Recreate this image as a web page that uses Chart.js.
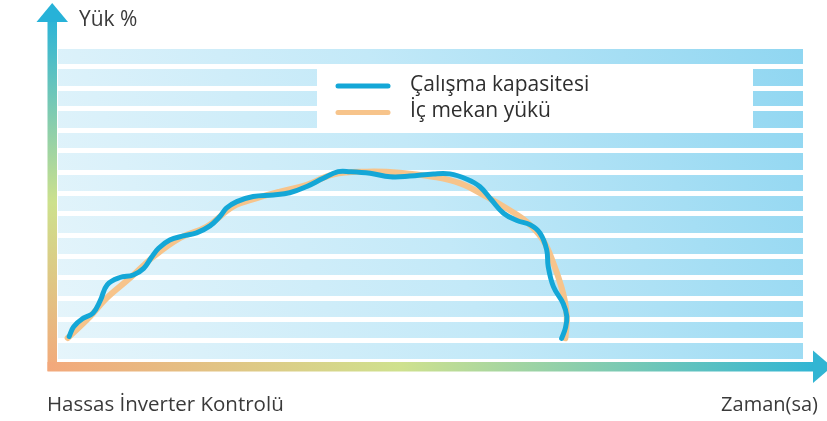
<!DOCTYPE html>
<html lang="tr">
<head>
<meta charset="utf-8">
<title>Hassas İnverter Kontrolü</title>
<script src="https://cdn.jsdelivr.net/npm/chart.js@4/dist/chart.umd.min.js"></script>
<style>
  html, body { margin: 0; padding: 0; background: #ffffff; }
  #wrap { width: 827px; height: 421px; }
</style>
</head>
<body>
<div id="wrap"><canvas id="c" width="827" height="421"></canvas></div>
<script>
// Labels
const yAxisLabel = 'Yük %';
const xAxisLabel = 'Zaman(sa)';
const captionText = 'Hassas İnverter Kontrolü';
const seriesNames = ['Çalışma kapasitesi', 'İç mekan yükü'];

// Operating capacity (time %, load %)
const capacityX = [1.5, 2.1, 3.4, 4.7, 5.7, 6.6, 8.3, 10.1, 11.5, 12.6, 13.5, 15.0, 16.8, 18.6, 20.4, 21.7, 22.6, 24.0, 26.2, 28.9, 31.1, 33.4, 35.6, 37.6, 39.2, 41.9, 44.6, 47.2, 50.4, 52.6, 54.9, 56.6, 58.2, 59.8, 61.6, 63.4, 64.7, 65.6, 65.8, 66.5, 67.8, 68.3, 68.1, 67.6];
const capacityY = [7.8, 10.9, 13.6, 15.2, 19.3, 24.2, 26.5, 27.3, 29.4, 33.1, 35.8, 38.4, 39.7, 40.7, 42.9, 45.8, 48.5, 50.6, 52.2, 52.7, 53.4, 55.4, 58.0, 60.1, 60.1, 59.6, 58.5, 58.7, 59.4, 59.4, 57.7, 55.4, 51.1, 46.9, 44.6, 43.2, 40.6, 35.3, 30.0, 23.6, 18.3, 14.1, 10.4, 7.2];

// Indoor load (time %, load %)
const loadX = [1.3, 4.3, 6.5, 9.7, 12.8, 16.4, 20.0, 23.5, 26.7, 29.8, 33.4, 36.9, 41.4, 45.9, 50.3, 54.0, 57.5, 60.2, 62.9, 65.1, 66.5, 67.8, 68.3, 68.1];
const loadY = [7.3, 14.1, 19.9, 26.4, 33.1, 39.1, 42.7, 49.0, 51.7, 53.8, 55.9, 59.2, 60.1, 59.8, 58.5, 56.4, 52.2, 48.5, 44.2, 38.4, 31.0, 21.5, 14.1, 7.2];

const seriesColors = ['#14a7d7', '#f7c48b'];

const toPoints = (xs, ys) => xs.map((x, i) => ({ x: x, y: ys[i] }));

// Striped sky-blue plot background
const backdrop = {
  id: 'backdrop',
  beforeDraw(chart) {
    const { ctx, chartArea: a } = chart;
    const g = ctx.createLinearGradient(a.left, a.bottom, a.right, a.top);
    g.addColorStop(0, '#e6f5fb');
    g.addColorStop(0.5, '#c3e9f8');
    g.addColorStop(1, '#8fd6f1');
    ctx.save();
    ctx.fillStyle = g;
    ctx.fillRect(a.left, a.top, a.right - a.left, a.bottom - a.top);
    ctx.restore();
  }
};

// Legend panel drawn inside the plot
const legendPanel = {
  id: 'legendPanel',
  beforeDatasetsDraw(chart) {
    const ctx = chart.ctx;
    ctx.save();
    ctx.fillStyle = '#ffffff';
    ctx.fillRect(317, 64, 436, 69);
    const rows = [86, 112.5];
    chart.data.datasets.forEach((ds, i) => {
      const y = rows[i];
      ctx.strokeStyle = ds.borderColor;
      ctx.lineWidth = 5;
      ctx.lineCap = 'round';
      ctx.beginPath();
      ctx.moveTo(338, y);
      ctx.lineTo(388, y);
      ctx.stroke();
      ctx.fillStyle = '#2e2e2e';
      ctx.font = '21px "Open Sans"';
      ctx.textBaseline = 'middle';
      ctx.fillText(ds.label, 410, y - 1);
    });
    ctx.restore();
  }
};

// Gradient axes with arrow heads and axis captions
const arrowAxes = {
  id: 'arrowAxes',
  afterDatasetsDraw(chart) {
    const ctx = chart.ctx;
    ctx.save();
    // vertical axis
    const gv = ctx.createLinearGradient(0, 20, 0, 371);
    gv.addColorStop(0, '#2cb4d7');
    gv.addColorStop(0.52, '#cde18d');
    gv.addColorStop(1, '#f3a97b');
    ctx.fillStyle = gv;
    ctx.fillRect(47.5, 20, 9.5, 351);
    ctx.fillStyle = '#27b2d8';
    ctx.beginPath();
    ctx.moveTo(52.2, 3);
    ctx.lineTo(68, 22);
    ctx.lineTo(36.5, 22);
    ctx.closePath();
    ctx.fill();
    // horizontal axis
    const gh = ctx.createLinearGradient(47, 0, 815, 0);
    gh.addColorStop(0, '#f3a87b');
    gh.addColorStop(0.46, '#cfe18e');
    gh.addColorStop(1, '#30b5d4');
    ctx.fillStyle = gh;
    ctx.fillRect(47.5, 362, 768, 9.5);
    ctx.fillStyle = '#32b5d3';
    ctx.beginPath();
    ctx.moveTo(813, 350.5);
    ctx.lineTo(832, 366.7);
    ctx.lineTo(813, 383);
    ctx.closePath();
    ctx.fill();
    // captions
    ctx.fillStyle = '#3a3a3a';
    ctx.font = '21px "Open Sans"';
    ctx.textBaseline = 'alphabetic';
    ctx.textAlign = 'left';
    ctx.fillText(yAxisLabel, 79, 25.5);
    ctx.font = '20.5px "Open Sans"';
    ctx.fillText(captionText, 47, 411);
    ctx.font = '20px "Open Sans"';
    ctx.textAlign = 'right';
    ctx.fillText(xAxisLabel, 818, 411);
    ctx.restore();
  }
};

new Chart(document.getElementById('c'), {
  type: 'line',
  data: {
    datasets: [
      {
        label: seriesNames[0],
        data: toPoints(capacityX, capacityY),
        borderColor: seriesColors[0],
        borderWidth: 5,
        borderCapStyle: 'round',
        borderJoinStyle: 'round',
        tension: 0.4,
        pointRadius: 0,
        fill: false,
        order: 0
      },
      {
        label: seriesNames[1],
        data: toPoints(loadX, loadY),
        borderColor: seriesColors[1],
        borderWidth: 6,
        borderCapStyle: 'round',
        borderJoinStyle: 'round',
        tension: 0.4,
        pointRadius: 0,
        fill: false,
        order: 1
      }
    ]
  },
  options: {
    responsive: false,
    animation: false,
    devicePixelRatio: 1,
    layout: { padding: { left: 58, right: 24, top: 46, bottom: 60 } },
    plugins: { legend: { display: false }, tooltip: { enabled: false } },
    scales: {
      x: {
        type: 'linear', min: 0, max: 100,
        grid: { display: false, drawTicks: false },
        border: { display: false },
        ticks: { display: false },
        afterFit(s) { s.height = 0; s.paddingLeft = 0; s.paddingRight = 0; }
      },
      y: {
        min: 0, max: 100,
        grid: { color: '#ffffff', lineWidth: 5, drawTicks: false },
        border: { display: false },
        ticks: { display: false, count: 16 },
        afterFit(s) { s.width = 0; s.paddingTop = 0; s.paddingBottom = 0; }
      }
    }
  },
  plugins: [backdrop, legendPanel, arrowAxes]
});
</script>
</body>
</html>
